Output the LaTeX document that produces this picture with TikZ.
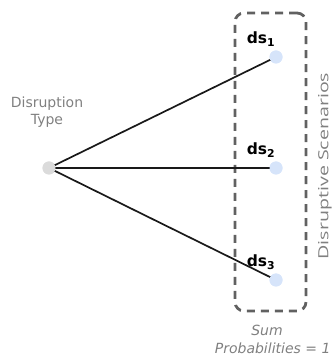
\documentclass[tikz,border=0pt]{standalone}
\usepackage{fontspec}
\usepackage{graphicx}
\setmainfont{DejaVu Sans}
\newfontfamily\opensans{Open Sans}
\begin{document}
\begin{tikzpicture}[x=1pt,y=1pt,
  srcdot/.style={circle,fill=black!14,minimum size=13pt,inner sep=0pt},
  tgtdot/.style={circle,fill={rgb,255:red,214;green,228;blue,250},minimum size=13pt,inner sep=0pt},
  edge/.style={line width=1.7pt,black!90},
  dslabel/.style={font=\fontsize{15.5}{17}\selectfont\bfseries},
  graytext/.style={text=black!50,font=\fontsize{14}{17}\selectfont},
  groupbox/.style={draw=black!62,line width=2.8pt,dash pattern=on 8pt off 6pt,rounded corners=9pt}]
\useasboundingbox (0,0) rectangle (332,356);
\node[groupbox,minimum width=71pt,minimum height=298pt] (box) at (270.5,194) {};
\node[srcdot] (src) at (49,188) {};
\node[tgtdot] (t1) at (276,299) {};
\node[tgtdot] (t2) at (276,188) {};
\node[tgtdot] (t3) at (276,76) {};
\draw[edge] (src.center) -- (t1.center);
\draw[edge] (src.center) -- (t2.center);
\draw[edge] (src.center) -- (t3.center);
\node[tgtdot] at (t1) {};
\node[tgtdot] at (t2) {};
\node[tgtdot] at (t3) {};
\node[srcdot] at (src) {};
\node[dslabel] (l1) at (261,317) {ds$_{\mathbf 1}$};
\node[dslabel] (l2) at (261,206) {ds$_{\mathbf 2}$};
\node[dslabel] (l3) at (261,94) {ds$_{\mathbf 3}$};
\node[graytext,align=center] (dt) at (47,244) {Disruption\\Type};
\node[text=black!50,font=\opensans\fontsize{14}{16}\selectfont,rotate=90,inner sep=0pt] (ds) at (325,190) {\scalebox{1.4}[1]{Disruptive Scenarios}};
\node[graytext,font=\fontsize{14}{17}\selectfont\itshape] (sum) at (267,26) {Sum};
\node[graytext,font=\fontsize{14}{17}\selectfont\itshape,anchor=east] (prob) at (334,8) {Probabilities = 1};
\end{tikzpicture}
\end{document}
